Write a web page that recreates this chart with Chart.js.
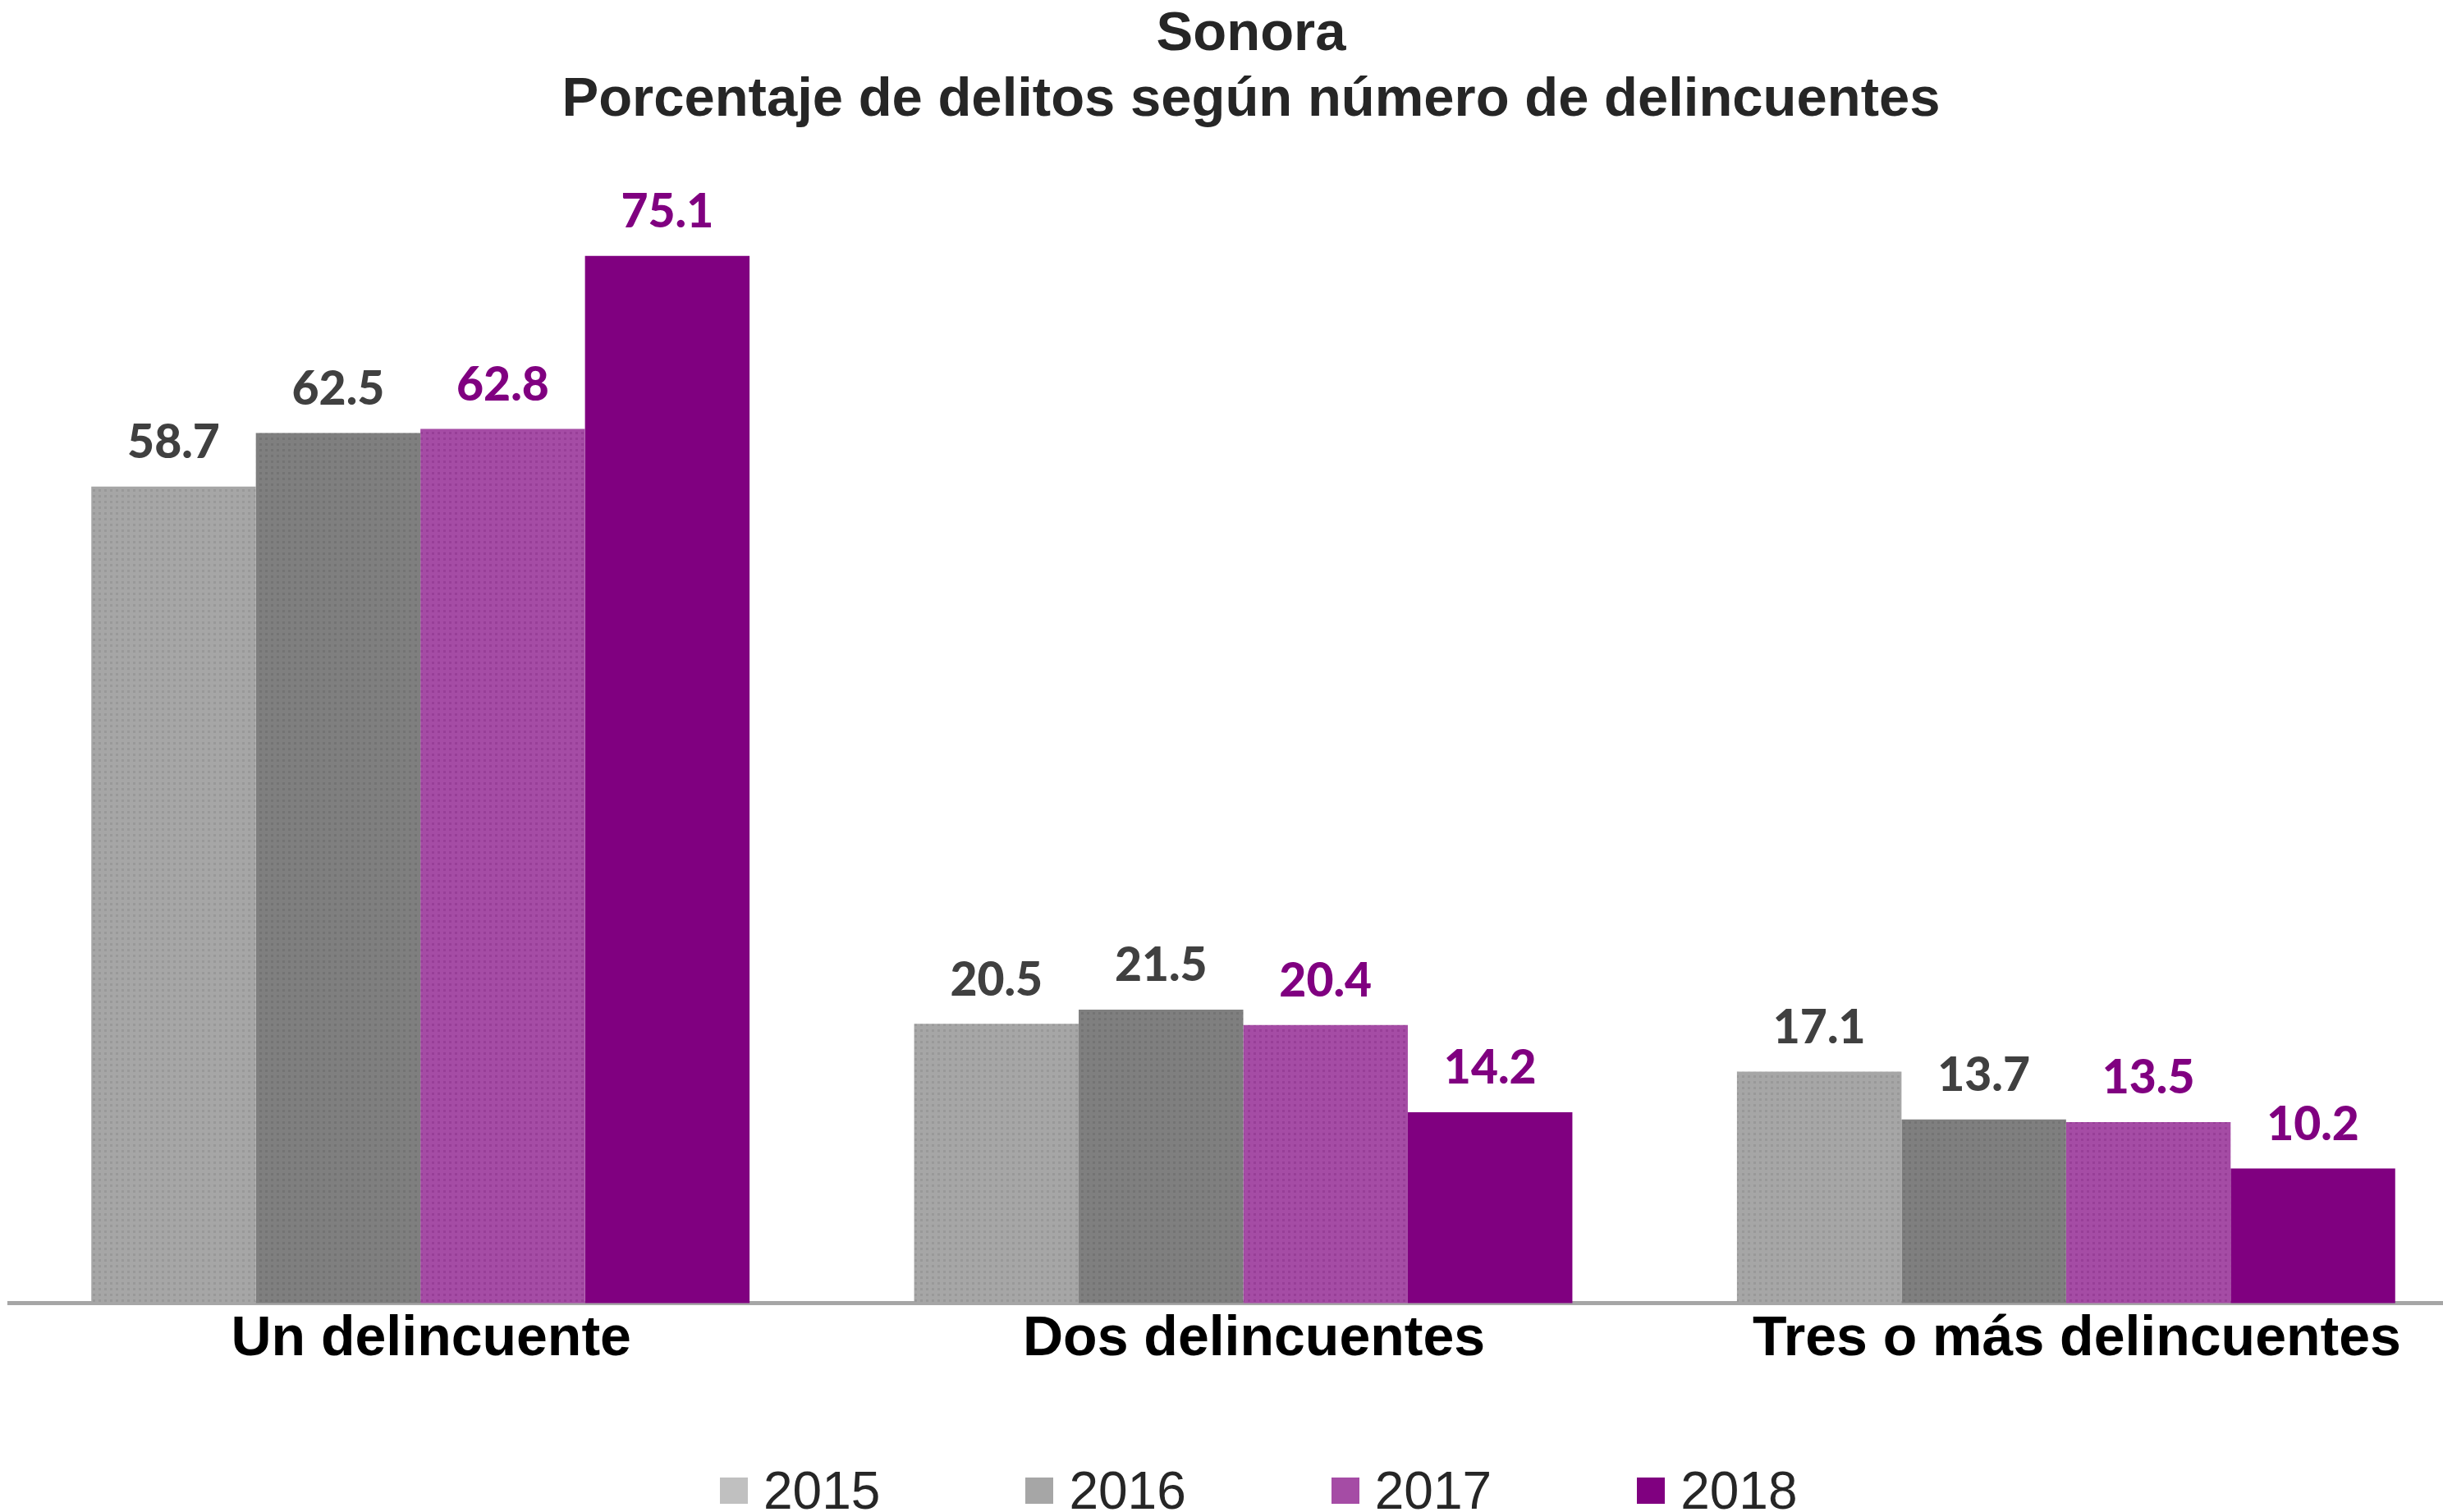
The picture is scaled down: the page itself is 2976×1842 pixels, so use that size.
<!DOCTYPE html>
<html lang="es">
<head>
<meta charset="utf-8">
<title>Sonora - delitos según número de delincuentes</title>
<script src="https://cdn.jsdelivr.net/npm/chart.js@4.4.1/dist/chart.umd.min.js"></script>
<style>
    html, body { margin: 0; padding: 0; background: #fff; overflow: hidden; }
    #wrap { position: relative; width: 3040px; height: 1842px; }
    #legend {
        position: absolute; left: 877px; top: 1780px; height: 72px;
        display: flex; align-items: center; gap: 177px;
        font-family: "Liberation Sans", Arial, sans-serif; font-size: 64px; color: #262626;
    }
    .item { display: flex; align-items: center; gap: 19px; }
    .box { width: 34px; height: 32px; }
</style>
</head>
<body>
<div id="wrap">
    <canvas id="chart" width="3040" height="1842"></canvas>
    <div id="legend"></div>
</div>
<script>
// data
const categories = ['Un delincuente', 'Dos delincuentes', 'Tres o más delincuentes'];
const years = ['2015', '2016', '2017', '2018'];
const values2015 = [58.7, 20.5, 17.1];
const values2016 = [62.5, 21.5, 13.7];
const values2017 = [62.8, 20.4, 13.5];
const values2018 = [75.1, 14.2, 10.2];

// styles
const barColors = ['#a6a6a6', '#7f7f7f', '#a54ca5', '#800080'];
const dotColors = ['#999999', '#747474', '#983f98', null];
const legendColors = ['#c0c0c0', '#a6a6a6', '#a54ca5', '#800080'];
const labelColors = ['#404040', '#404040', '#800080', '#800080'];

// small dotted texture like the original bars
function makeFill(base, dot) {
    if (!dot) return base;
    const c = document.createElement('canvas');
    c.width = 7; c.height = 7;
    const g = c.getContext('2d');
    g.fillStyle = base;
    g.fillRect(0, 0, 7, 7);
    g.fillStyle = dot;
    g.fillRect(1, 1, 3, 3);
    return g.createPattern(c, 'repeat');
}

// value labels above each bar
const valueLabels = {
    id: 'valueLabels',
    afterDatasetsDraw(chart) {
        const ctx = chart.ctx;
        ctx.save();
        ctx.font = '900 57px Lato, "Open Sans", sans-serif';
        ctx.textAlign = 'center';
        ctx.textBaseline = 'middle';
        chart.data.datasets.forEach((ds, i) => {
            chart.getDatasetMeta(i).data.forEach((bar, j) => {
                ctx.fillStyle = labelColors[i];
                ctx.fillText(ds.data[j].toFixed(1), bar.x, bar.y - 53);
            });
        });
        ctx.restore();
    }
};

const seriesValues = [values2015, values2016, values2017, values2018];

new Chart(document.getElementById('chart'), {
    type: 'bar',
    data: {
        labels: categories,
        datasets: years.map((y, i) => ({
            label: y,
            data: seriesValues[i],
            backgroundColor: makeFill(barColors[i], dotColors[i]),
            borderWidth: 0,
            categoryPercentage: 0.8,
            barPercentage: 1.0
        }))
    },
    options: {
        responsive: false,
        devicePixelRatio: 1,
        animation: false,
        layout: { padding: { left: 11, right: 3, top: 0, bottom: 165 } },
        plugins: {
            legend: { display: false },
            tooltip: { enabled: false },
            title: {
                display: true,
                text: ['Sonora', 'Porcentaje de delitos según número de delincuentes'],
                color: '#262626',
                font: { family: '"Liberation Sans", Arial, sans-serif', size: 67, weight: 'bold', lineHeight: 1.2 },
                padding: { top: 2, bottom: 65 }
            }
        },
        scales: {
            x: {
                grid: { display: false, drawTicks: false },
                border: { display: true, color: '#a6a6a6', width: 5 },
                ticks: {
                    color: '#000',
                    padding: 4,
                    labelOffset: 13,
                    font: { family: '"Liberation Sans", Arial, sans-serif', size: 68, weight: 'bold', lineHeight: 1.2 }
                }
            },
            y: {
                position: 'right',
                min: 0.64,
                max: 80,
                grid: { display: false },
                border: { display: false },
                ticks: { display: false },
                afterFit(scale) { scale.width = 19; }
            }
        }
    },
    plugins: [valueLabels]
});

// legend (html)
document.getElementById('legend').innerHTML = years.map((y, i) => `
    <div class="item">
        <div class="box" style="background-color: ${legendColors[i]}"></div>
        <span>${y}</span>
    </div>
`).join('');
</script>
</body>
</html>
